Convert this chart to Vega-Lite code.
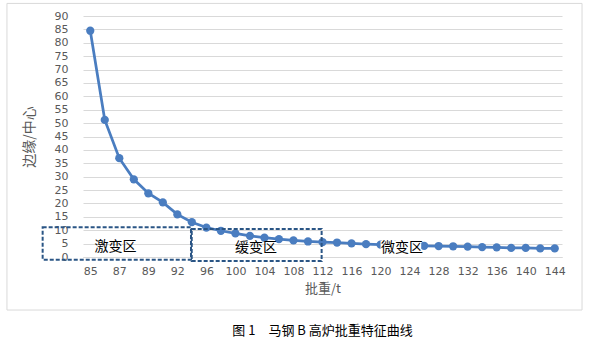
{
  "$schema": "https://vega.github.io/schema/vega-lite/v6.json",
  "width": 479,
  "height": 241,
  "autosize": {"type": "none"},
  "padding": {"left": 83, "top": 16, "right": 29, "bottom": 82},
  "background": "white",
  "title": {
    "text": "图 1　马钢 B 高炉批重特征曲线",
    "orient": "bottom",
    "anchor": "middle",
    "font": "Noto Sans CJK SC",
    "fontSize": 13,
    "fontWeight": "normal",
    "color": "#000000",
    "offset": 14
  },
  "config": {
    "view": {"stroke": null},
    "axis": {
      "labelFont": "DejaVu Sans",
      "labelFontSize": 11,
      "labelColor": "#595959",
      "titleFont": "Noto Sans CJK SC",
      "titleFontSize": 13,
      "titleFontWeight": "normal",
      "titleColor": "#595959",
      "ticks": false
    }
  },
  "datasets": {
    "series": [
      {"batch": 85, "ratio": 84.5},
      {"batch": 86, "ratio": 51.2},
      {"batch": 87, "ratio": 36.9},
      {"batch": 88, "ratio": 29.0},
      {"batch": 89, "ratio": 23.8},
      {"batch": 90, "ratio": 20.4},
      {"batch": 92, "ratio": 15.9},
      {"batch": 94, "ratio": 13.0},
      {"batch": 96, "ratio": 11.0},
      {"batch": 98, "ratio": 9.8},
      {"batch": 100, "ratio": 8.8},
      {"batch": 102, "ratio": 7.9},
      {"batch": 104, "ratio": 7.2},
      {"batch": 106, "ratio": 6.7},
      {"batch": 108, "ratio": 6.2},
      {"batch": 110, "ratio": 5.8},
      {"batch": 112, "ratio": 5.6},
      {"batch": 114, "ratio": 5.4},
      {"batch": 116, "ratio": 5.1},
      {"batch": 118, "ratio": 4.8},
      {"batch": 120, "ratio": 4.6},
      {"batch": 122, "ratio": 4.5},
      {"batch": 124, "ratio": 4.3},
      {"batch": 126, "ratio": 4.2},
      {"batch": 128, "ratio": 4.1},
      {"batch": 130, "ratio": 4.0},
      {"batch": 132, "ratio": 3.9},
      {"batch": 134, "ratio": 3.7},
      {"batch": 136, "ratio": 3.6},
      {"batch": 138, "ratio": 3.4},
      {"batch": 140, "ratio": 3.4},
      {"batch": 142, "ratio": 3.2},
      {"batch": 144, "ratio": 3.2}
    ],
    "frame": [
      {"x1": -5.74, "x2": 33.88, "y1": -19.8, "y2": 94.7}
    ],
    "zones": [
      {"name": "激变区", "x1": -3.28, "x2": 6.94, "y1": -1.0, "y2": 11.1},
      {"name": "缓变区", "x1": 6.99, "x2": 15.94, "y1": -1.5, "y2": 10.5}
    ],
    "labels": [
      {"name": "激变区", "tx": 1.74, "ty": 3.7},
      {"name": "缓变区", "tx": 11.42, "ty": 3.4},
      {"name": "微变区", "tx": 21.48, "ty": 3.4}
    ],
    "mask": [
      {"x1": 20.0, "x2": 22.8, "y1": 0.5, "y2": 6.0}
    ]
  },
  "resolve": {"scale": {"x": "independent", "y": "independent"}},
  "layer": [
    {
      "data": {"name": "frame"},
      "mark": {"type": "rect", "fill": null, "stroke": "#d9d9d9", "strokeWidth": 1},
      "encoding": {
        "x": {"field": "x1", "type": "quantitative", "scale": {"domain": [-0.5, 32.5], "nice": false, "zero": false}, "axis": null},
        "x2": {"field": "x2"},
        "y": {"field": "y1", "type": "quantitative", "scale": {"domain": [0, 90], "nice": false, "zero": false}, "axis": null},
        "y2": {"field": "y2"}
      }
    },
    {
      "data": {"name": "series"},
      "encoding": {
        "x": {
          "field": "batch",
          "type": "ordinal",
          "title": "批重/t",
          "axis": {
            "values": [85, 87, 89, 92, 96, 100, 104, 108, 112, 116, 120, 124, 128, 132, 136, 140, 144],
            "labelAngle": 0,
            "labelPadding": 8,
            "titlePadding": 6,
            "domain": true,
            "domainColor": "#d9d9d9",
            "grid": false
          }
        },
        "y": {
          "field": "ratio",
          "type": "quantitative",
          "title": "边缘/中心",
          "scale": {"domain": [0, 90], "nice": false, "zero": true},
          "axis": {
            "values": [0, 5, 10, 15, 20, 25, 30, 35, 40, 45, 50, 55, 60, 65, 70, 75, 80, 85, 90],
            "domain": false,
            "grid": true,
            "gridColor": "#d9d9d9",
            "gridWidth": 1,
            "labelPadding": 15,
            "titlePadding": 18,
            "titleFontSize": 14
          }
        }
      },
      "layer": [
        {"mark": {"type": "line", "color": "#4a7dc0", "strokeWidth": 2.75}},
        {"mark": {"type": "point", "filled": true, "color": "#4a7dc0", "size": 68, "opacity": 1}}
      ]
    },
    {
      "data": {"name": "zones"},
      "mark": {"type": "rect", "fill": null, "stroke": "#2a5585", "strokeWidth": 2, "strokeDash": [4, 2]},
      "encoding": {
        "x": {"field": "x1", "type": "quantitative", "scale": {"domain": [-0.5, 32.5], "nice": false, "zero": false}, "axis": null},
        "x2": {"field": "x2"},
        "y": {"field": "y1", "type": "quantitative", "scale": {"domain": [0, 90], "nice": false, "zero": false}, "axis": null},
        "y2": {"field": "y2"}
      }
    },
    {
      "data": {"name": "mask"},
      "mark": {"type": "rect", "fill": "white", "stroke": null},
      "encoding": {
        "x": {"field": "x1", "type": "quantitative", "scale": {"domain": [-0.5, 32.5], "nice": false, "zero": false}, "axis": null},
        "x2": {"field": "x2"},
        "y": {"field": "y1", "type": "quantitative", "scale": {"domain": [0, 90], "nice": false, "zero": false}, "axis": null},
        "y2": {"field": "y2"}
      }
    },
    {
      "data": {"name": "labels"},
      "mark": {"type": "text", "font": "Noto Sans CJK SC", "fontSize": 14, "color": "#000000", "align": "center", "baseline": "middle"},
      "encoding": {
        "x": {"field": "tx", "type": "quantitative", "scale": {"domain": [-0.5, 32.5], "nice": false, "zero": false}, "axis": null},
        "y": {"field": "ty", "type": "quantitative", "scale": {"domain": [0, 90], "nice": false, "zero": false}, "axis": null},
        "text": {"field": "name"}
      }
    }
  ]
}
